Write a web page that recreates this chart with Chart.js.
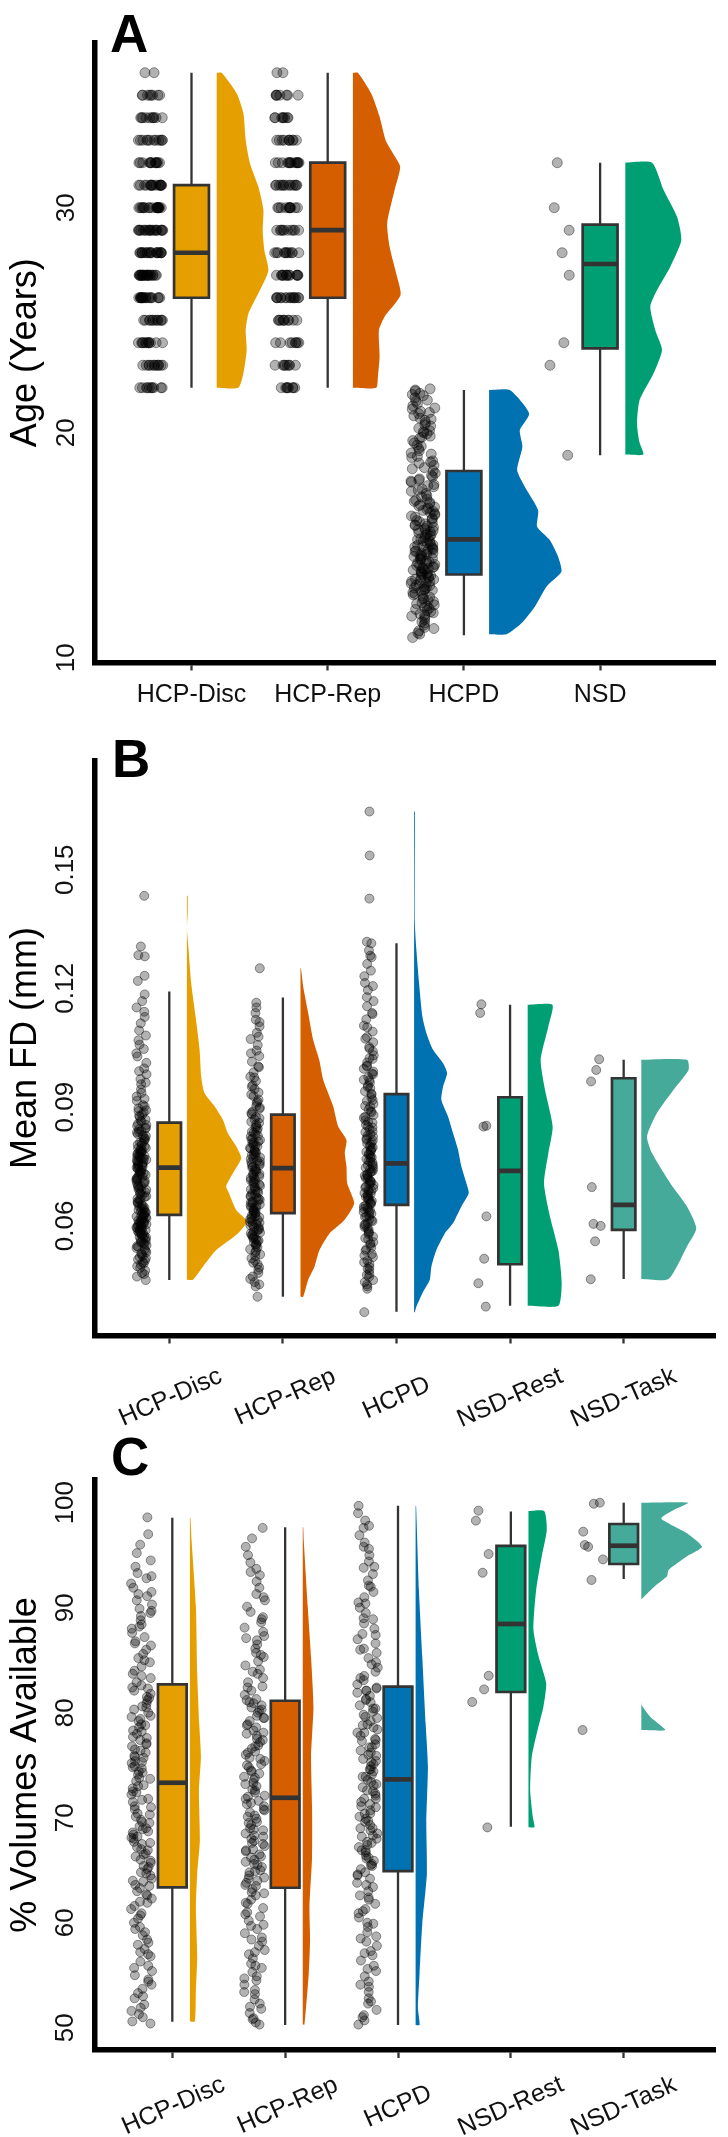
<!DOCTYPE html>
<html>
<head>
<meta charset="utf-8">
<script src="https://cdn.jsdelivr.net/npm/chart.js@4.4.1/dist/chart.umd.min.js"></script>
<style>
  html, body { margin: 0; padding: 0; background: #fff; }
  #wrap { position: relative; width: 728px; height: 2137px; }
  #wrap canvas { position: absolute; left: 0; }
</style>
</head>
<body>
<div id="wrap">
  <canvas id="chartA" width="728" height="725" style="top:0"></canvas>
  <canvas id="chartB" width="728" height="710" style="top:725px"></canvas>
  <canvas id="chartC" width="728" height="702" style="top:1435px"></canvas>
</div>
<script>
// ---------- panel A : age ----------
const ageGroups = ['HCP-Disc', 'HCP-Rep', 'HCPD', 'NSD'];
const ageTicks = [10, 20, 30];
const hcpAgeLevels = [22, 23, 24, 25, 26, 27, 28, 29, 30, 31, 32, 33, 34, 35, 36];
const ageCountDisc = [10, 12, 12, 12, 18, 22, 20, 20, 19, 16, 13, 12, 10, 8, 2];
const ageCountRep = [8, 8, 8, 10, 15, 14, 11, 10, 11, 13, 14, 10, 8, 7, 2];
const ageHcpd = [
  10.9, 11.05, 11.2, 11.3, 11.45, 11.55, 11.7, 11.8, 11.9, 11.95,
  12.0, 12.05, 12.15, 12.2, 12.3, 12.35, 12.45, 12.5, 12.6, 12.65, 12.75, 12.8, 12.9, 12.95,
  13.0, 13.05, 13.1, 13.15, 13.2, 13.3, 13.35, 13.4, 13.45, 13.5, 13.55, 13.6, 13.65, 13.7, 13.75, 13.8, 13.85, 13.9, 13.95,
  14.0, 14.05, 14.1, 14.15, 14.2, 14.25, 14.3, 14.4, 14.45, 14.5, 14.55, 14.6, 14.65, 14.7, 14.75, 14.8, 14.85, 14.9, 14.95,
  15.0, 15.05, 15.1, 15.2, 15.25, 15.3, 15.4, 15.45, 15.5, 15.6, 15.65, 15.7, 15.8, 15.85, 15.9, 15.95,
  16.0, 16.1, 16.15, 16.25, 16.3, 16.4, 16.45, 16.55, 16.6, 16.7, 16.75, 16.85, 16.9, 16.95,
  17.05, 17.15, 17.3, 17.4, 17.5, 17.6, 17.7, 17.8, 17.9, 17.95,
  18.05, 18.2, 18.3, 18.45, 18.55, 18.65, 18.75, 18.9, 18.95,
  19.05, 19.2, 19.3, 19.4, 19.55, 19.65, 19.75, 19.85, 19.95,
  20.0, 20.1, 20.2, 20.35, 20.45, 20.55, 20.65, 20.75, 20.85, 20.95,
  21.05, 21.2, 21.3, 21.45, 21.55, 21.65, 21.75, 21.85, 21.95,
  11.1, 11.35, 11.6, 11.85, 12.1, 12.25, 12.4, 12.55, 12.7, 12.85, 13.02, 13.12, 13.22, 13.28, 13.38, 13.48,
  13.58, 13.68, 13.78, 13.88, 13.98, 14.02, 14.12, 14.22, 14.35, 14.42, 14.52, 14.62, 14.72, 14.82, 14.92,
  15.02, 15.15, 15.28, 15.35, 15.48, 15.55, 15.68, 15.75, 15.88, 16.05, 16.2, 16.35, 16.5, 16.65, 16.8,
  17.0, 17.2, 17.45, 17.65, 17.85, 18.1, 18.4, 18.7, 19.1, 19.45, 19.8, 20.05, 20.3, 20.6, 20.9, 21.1, 21.4, 21.7, 21.9
];
const ageNsd = [32, 30, 29, 28, 27, 24, 23, 19];
// box stats: min, q1, median, q3, max
const ageBoxDisc = [22, 26, 28, 31, 36];
const ageBoxRep = [22, 26, 29, 32, 36];
const ageBoxHcpd = [11.0, 13.7, 15.26, 18.3, 21.9];
const ageBoxNsd = [19, 23.75, 27.5, 29.25, 32];
// half-violin densities (value, relative density)
const ageDensDiscY = [22.0, 22.64, 23.68, 24.56, 25.3, 26.2, 27.2, 28.1, 29.0, 29.9, 30.93, 31.97, 33.0, 34.2, 35.08, 36.0];
const ageDensDiscW = [21.7, 26.7, 30, 29, 31.7, 41.7, 51.7, 47.7, 46, 46.7, 41.7, 33.3, 29, 26.7, 20, 5];
const ageDensRepY = [22.0, 22.49, 23.38, 24.56, 25.16, 26.12, 27.08, 28.27, 29.31, 30.79, 31.82, 32.42, 33.0, 34.04, 35.08, 36.0];
const ageDensRepW = [23.3, 25, 26.7, 26, 31.7, 47.7, 43.3, 36.7, 34.3, 41.7, 47.3, 40, 32.7, 26.7, 18.3, 5];
const ageDensHcpdY = [11.04, 11.53, 12.27, 13.16, 13.82, 14.49, 15.23, 15.82, 16.56, 17.6, 18.34, 19.38, 20.12, 20.86, 21.9];
const ageDensHcpdW = [17.3, 32.3, 45.7, 57.3, 72.3, 69, 60.7, 48, 49, 35.7, 28, 33.3, 30.7, 40, 20.7];
const ageDensNsdY = [19.03, 19.6, 20.42, 21.45, 22.64, 23.68, 24.56, 25.6, 26.34, 27.38, 28.55, 29.6, 30.79, 32.0];
const ageDensNsdW = [18, 14, 11.7, 14.3, 28.3, 36.7, 30, 25, 31.7, 45, 56, 51.7, 38.3, 26.7];

// ---------- panel B : mean FD ----------
const fdGroups = ['HCP-Disc', 'HCP-Rep', 'HCPD', 'NSD-Rest', 'NSD-Task'];
const fdTicks = [0.06, 0.09, 0.12, 0.15];
const fdDisc = [
  0.0463, 0.0472, 0.0481, 0.0494,
  0.0502, 0.0508, 0.0515, 0.0521, 0.0528, 0.0533, 0.0541, 0.0547,
  0.0551, 0.0554, 0.0558, 0.0562, 0.0565, 0.0569, 0.0572, 0.0575, 0.0578, 0.0581, 0.0584, 0.0587, 0.0590, 0.0593, 0.0596, 0.0599,
  0.0601, 0.0604, 0.0606, 0.0609, 0.0611, 0.0614, 0.0617, 0.0619, 0.0622, 0.0625, 0.0628, 0.0631, 0.0634, 0.0637, 0.0640, 0.0643, 0.0646, 0.0649,
  0.0653, 0.0657, 0.0661, 0.0665, 0.0669, 0.0673, 0.0677, 0.0681, 0.0685, 0.0689, 0.0692, 0.0695, 0.0698,
  0.0702, 0.0706, 0.0709, 0.0713, 0.0716, 0.0720, 0.0724, 0.0727, 0.0731, 0.0735, 0.0738, 0.0742, 0.0745, 0.0748,
  0.0751, 0.0754, 0.0757, 0.0760, 0.0763, 0.0766, 0.0769, 0.0772, 0.0775, 0.0778, 0.0781, 0.0784, 0.0788, 0.0791, 0.0794, 0.0797,
  0.0801, 0.0805, 0.0809, 0.0814, 0.0818, 0.0823, 0.0827, 0.0832, 0.0836, 0.0840, 0.0844, 0.0848,
  0.0852, 0.0858, 0.0864, 0.0869, 0.0875, 0.0881, 0.0887, 0.0892, 0.0897,
  0.0905, 0.0916, 0.0927, 0.0936, 0.0945, 0.0958,
  0.0962, 0.0971, 0.0983, 0.0991, 0.0998,
  0.1012, 0.1028, 0.1036, 0.1047, 0.1058, 0.1069, 0.1081, 0.1094,
  0.1112, 0.1128, 0.1141, 0.1152, 0.1168, 0.1185,
  0.1219, 0.1232, 0.1281, 0.1284, 0.1306, 0.1434,
  0.0478, 0.0487, 0.0498, 0.0505, 0.0512, 0.0518, 0.0524, 0.0531, 0.0537, 0.0544, 0.0549, 0.0556, 0.0560, 0.0567,
  0.0571, 0.0577, 0.0583, 0.0586, 0.0589, 0.0592, 0.0595, 0.0598, 0.0603, 0.0605, 0.0608, 0.0612, 0.0616, 0.0621,
  0.0624, 0.0627, 0.0633, 0.0638, 0.0644, 0.0651, 0.0659, 0.0667, 0.0675, 0.0683, 0.0691, 0.0700, 0.0708, 0.0714,
  0.0718, 0.0722, 0.0729, 0.0733, 0.0737, 0.0744, 0.0750, 0.0753, 0.0756, 0.0762, 0.0767, 0.0771, 0.0774, 0.0777,
  0.0783, 0.0786, 0.0790, 0.0796, 0.0803, 0.0811, 0.0820, 0.0829, 0.0838, 0.0846, 0.0855, 0.0866, 0.0878, 0.0890,
  0.0902, 0.0921
];
const fdRep = [
  0.0421, 0.0447, 0.0458, 0.0472, 0.0489,
  0.0503, 0.0512, 0.0524, 0.0533, 0.0541, 0.0549,
  0.0553, 0.0558, 0.0563, 0.0568, 0.0573, 0.0578, 0.0583, 0.0588, 0.0593, 0.0597,
  0.0601, 0.0605, 0.0608, 0.0612, 0.0615, 0.0619, 0.0622, 0.0626, 0.0629, 0.0633, 0.0636, 0.0640, 0.0643, 0.0647, 0.0650, 0.0654, 0.0657, 0.0661, 0.0664, 0.0668, 0.0672, 0.0676, 0.0680, 0.0684, 0.0688, 0.0692, 0.0696,
  0.0701, 0.0705, 0.0709, 0.0713, 0.0717, 0.0721, 0.0725, 0.0729, 0.0733, 0.0737, 0.0741, 0.0745, 0.0749,
  0.0753, 0.0757, 0.0761, 0.0765, 0.0769, 0.0773, 0.0777, 0.0781, 0.0785, 0.0789, 0.0793, 0.0797,
  0.0801, 0.0805, 0.0809, 0.0813, 0.0817, 0.0821, 0.0826, 0.0831, 0.0836, 0.0841, 0.0846,
  0.0851, 0.0857, 0.0863, 0.0869, 0.0875, 0.0882, 0.0889, 0.0896,
  0.0903, 0.0911, 0.0919, 0.0928, 0.0937, 0.0946,
  0.0955, 0.0966, 0.0977, 0.0988, 0.1001, 0.1015, 0.1029, 0.1043,
  0.1057, 0.1072, 0.1088, 0.1104, 0.1121, 0.1138, 0.1152, 0.1164, 0.1251,
  0.0452, 0.0466, 0.0481, 0.0495, 0.0507, 0.0518, 0.0528, 0.0537, 0.0546, 0.0555, 0.0561, 0.0566, 0.0571, 0.0576,
  0.0581, 0.0586, 0.0591, 0.0596, 0.0603, 0.0610, 0.0617, 0.0624, 0.0631, 0.0638, 0.0645, 0.0652, 0.0659, 0.0666,
  0.0674, 0.0682, 0.0690, 0.0698, 0.0707, 0.0715, 0.0723, 0.0731, 0.0739, 0.0747, 0.0755, 0.0763, 0.0771, 0.0779,
  0.0787, 0.0795, 0.0803, 0.0811, 0.0819, 0.0828, 0.0838, 0.0848, 0.0860, 0.0872, 0.0885, 0.0899, 0.0914, 0.0932,
  0.0952, 0.0975, 0.1003, 0.1036, 0.1078, 0.1115
];
const fdHcpd = [
  0.0382,
  0.0441, 0.0452, 0.0463, 0.0471, 0.0479, 0.0488, 0.0496,
  0.0504, 0.0512, 0.0521, 0.0529, 0.0537, 0.0545,
  0.0552, 0.0559, 0.0566, 0.0573, 0.0579, 0.0585, 0.0591, 0.0597,
  0.0602, 0.0607, 0.0612, 0.0617, 0.0622, 0.0626, 0.0631, 0.0635, 0.0639, 0.0643, 0.0647,
  0.0651, 0.0655, 0.0659, 0.0663, 0.0667, 0.0671, 0.0675, 0.0679, 0.0683, 0.0687, 0.0691, 0.0695, 0.0699,
  0.0703, 0.0707, 0.0711, 0.0715, 0.0719, 0.0723, 0.0727, 0.0731, 0.0735, 0.0739, 0.0743, 0.0747,
  0.0751, 0.0755, 0.0760, 0.0764, 0.0769, 0.0773, 0.0778, 0.0782, 0.0787, 0.0791, 0.0796,
  0.0801, 0.0806, 0.0811, 0.0816, 0.0821, 0.0826, 0.0831, 0.0837, 0.0843, 0.0849,
  0.0855, 0.0861, 0.0867, 0.0873, 0.0880, 0.0887, 0.0894,
  0.0901, 0.0908, 0.0916, 0.0924, 0.0932, 0.0940, 0.0948,
  0.0955, 0.0962, 0.0969, 0.0976, 0.0983, 0.0990, 0.0997,
  0.1005, 0.1013, 0.1022, 0.1031, 0.1041,
  0.1052, 0.1064, 0.1077, 0.1091, 0.1106, 0.1122, 0.1138, 0.1155,
  0.1178, 0.1196, 0.1214, 0.1231,
  0.1262, 0.1279, 0.1283, 0.1296, 0.1314, 0.1318,
  0.1427, 0.1536, 0.1647,
  0.0447, 0.0458, 0.0476, 0.0492, 0.0508, 0.0525, 0.0541, 0.0556, 0.0569, 0.0582, 0.0594, 0.0604, 0.0614, 0.0624,
  0.0633, 0.0641, 0.0649, 0.0657, 0.0665, 0.0673, 0.0681, 0.0689, 0.0697, 0.0705, 0.0713, 0.0721, 0.0729, 0.0737,
  0.0745, 0.0753, 0.0762, 0.0771, 0.0780, 0.0789, 0.0798, 0.0808, 0.0818, 0.0828, 0.0839, 0.0851, 0.0863, 0.0876,
  0.0889, 0.0903, 0.0918, 0.0934, 0.0951, 0.0968, 0.0985, 0.1003, 0.1024, 0.1048, 0.1073, 0.1102, 0.1135, 0.1168,
  0.1206, 0.1245
];
const fdRest = [0.116, 0.1138, 0.0853, 0.0851, 0.0624, 0.0517, 0.0455, 0.0396];
const fdTask = [0.1021, 0.0994, 0.0965, 0.0698, 0.0605, 0.0600, 0.0561, 0.0465];
const fdBoxDisc = [0.0463, 0.0628, 0.0747, 0.0861, 0.1192];
const fdBoxRep = [0.0421, 0.0632, 0.0746, 0.0881, 0.1177];
const fdBoxHcpd = [0.0383, 0.0653, 0.0758, 0.0933, 0.1314];
const fdBoxRest = [0.0398, 0.0503, 0.0739, 0.0925, 0.1159];
const fdBoxTask = [0.0466, 0.059, 0.0653, 0.0973, 0.102];
const fdDensDiscY = [0.0464, 0.0497, 0.0539, 0.0581, 0.0611, 0.064, 0.0683, 0.07, 0.0733, 0.0771, 0.0801, 0.0834, 0.0868, 0.0902, 0.0935, 0.0977, 0.1045, 0.1129, 0.1213, 0.1298, 0.1352, 0.139, 0.1434];
const fdDensDiscW = [6, 16, 29.3, 51, 60, 49.3, 42, 39.3, 46, 54.3, 49.3, 41, 36, 27.7, 17.7, 14.3, 12.7, 8.7, 4.3, 1.7, 0, 0.8, 0.8];
const fdDensRepY = [0.0421, 0.0464, 0.0497, 0.0539, 0.0581, 0.0615, 0.0657, 0.0708, 0.075, 0.0784, 0.0817, 0.0851, 0.0902, 0.0935, 0.0969, 0.102, 0.107, 0.1138, 0.1205, 0.1251];
const fdDensRepW = [2.7, 7.7, 14, 19, 29, 44, 53.7, 46.7, 46, 44.3, 46, 37.7, 32.7, 27.7, 22.7, 18.7, 12.7, 7.7, 2.7, 0.5];
const fdDensHcpdY = [0.0382, 0.0396, 0.043, 0.0464, 0.0497, 0.0539, 0.0581, 0.0607, 0.0649, 0.0683, 0.0708, 0.075, 0.0792, 0.0834, 0.0876, 0.0918, 0.0952, 0.0986, 0.1011, 0.1045, 0.1087, 0.1129, 0.1213, 0.1298, 0.1365, 0.1647];
const fdDensHcpdW = [0.7, 2.3, 8.3, 15.7, 17.3, 22.3, 30.7, 39, 47.3, 54.7, 52.3, 47.3, 44, 39, 34, 27.3, 29, 33, 29, 19, 12.3, 8.3, 5, 2.3, 0.8, 0.8];
const fdDensRestY = [0.0398, 0.0455, 0.0539, 0.0624, 0.0708, 0.0784, 0.0851, 0.0944, 0.102, 0.1104, 0.1159];
const fdDensRestW = [30.7, 34, 30.7, 22.3, 16.3, 20.7, 25, 17.3, 13, 20.7, 24.7];
const fdDensTaskY = [0.0466, 0.0548, 0.0594, 0.0649, 0.0708, 0.0784, 0.0826, 0.0885, 0.0944, 0.0994, 0.102];
const fdDensTaskW = [27.3, 45.7, 55, 45.7, 29, 10.7, 5.7, 15.7, 32.3, 47.3, 45.7];

// ---------- panel C : % volumes ----------
const volGroups = ['HCP-Disc', 'HCP-Rep', 'HCPD', 'NSD-Rest', 'NSD-Task'];
const volTicks = [50, 60, 70, 80, 90, 100];
const volDisc = [
  50.4, 50.6, 51.0, 51.3, 51.9, 52.2, 52.8, 53.3, 53.7, 54.1, 54.6, 55.0, 55.4, 55.9, 56.3, 56.8, 57.2, 57.5, 57.9, 58.4, 58.8, 59.1, 59.6, 60.0, 60.4, 60.9, 61.3, 61.6, 62.0, 62.3, 62.7, 63.0, 63.3,
  63.6, 63.9, 64.2, 64.5, 64.8, 65.1, 65.4, 65.7, 66.0, 66.3, 66.6, 66.9, 67.2, 67.5, 67.7, 68.0, 68.2, 68.4, 68.7, 68.9, 69.2, 69.5, 69.8, 70.1, 70.4, 70.8, 71.1, 71.5, 71.8, 72.2, 72.5, 72.8, 73.1,
  73.5, 73.8, 74.1, 74.4, 74.7, 74.9, 75.2, 75.4, 75.7, 75.9, 76.2, 76.5, 76.8, 77.1, 77.4, 77.7, 78.0, 78.3, 78.6, 78.9, 79.2, 79.4, 79.7, 80.0, 80.3, 80.6, 80.9, 81.2, 81.5, 81.8, 82.1, 82.4, 82.6,
  82.9, 83.3, 83.7, 84.0, 84.4, 84.8, 85.2, 85.6, 86.0, 86.4, 86.8, 87.2, 87.6, 88.0, 88.4, 88.8, 89.2, 89.5, 89.9, 90.3, 90.7, 91.1, 91.5, 91.9, 92.3, 92.8, 93.3, 93.9, 94.5, 95.2, 96.0, 97.0, 98.6,
  51.6, 53.0, 54.4, 55.7, 57.0, 58.1, 59.4, 60.7, 61.9, 62.6, 63.5, 64.0, 64.7, 65.3, 65.9, 66.5, 67.0, 67.6, 68.1, 68.6, 69.0, 69.6, 70.3, 71.0,
  71.7, 72.4, 73.0, 73.7, 74.3, 74.8, 75.3, 75.8, 76.4, 77.0, 77.6, 78.2, 78.8, 79.6, 80.5, 81.4, 82.3, 83.5, 85.0, 86.6, 88.2, 89.7, 91.3, 93.0
];
const volRep = [
  50.3, 50.5, 50.9, 51.4, 51.8, 52.3, 52.7, 53.2, 53.6, 54.1, 54.5, 54.9, 55.3, 55.7, 56.1, 56.6, 57.0, 57.4, 57.8, 58.2, 58.6, 59.0, 59.4, 59.8, 60.2, 60.6, 61.0, 61.4, 61.8, 62.2, 62.6, 62.9, 63.2,
  63.5, 63.8, 64.0, 64.3, 64.5, 64.8, 65.0, 65.3, 65.5, 65.8, 66.0, 66.3, 66.5, 66.8, 67.0, 67.3, 67.5, 67.8, 68.0, 68.3, 68.5, 68.8, 69.0, 69.3, 69.6, 69.9, 70.2, 70.5, 70.8, 71.1, 71.3, 71.6, 71.8,
  72.1, 72.4, 72.7, 73.0, 73.3, 73.6, 73.9, 74.2, 74.5, 74.8, 75.1, 75.4, 75.7, 76.0, 76.3, 76.6, 76.9, 77.2, 77.5, 77.8, 78.0, 78.3, 78.6, 78.9, 79.2, 79.5, 79.7, 80.0, 80.3, 80.5, 80.7, 80.9, 81.0,
  81.3, 81.7, 82.1, 82.5, 82.9, 83.3, 83.7, 84.1, 84.5, 84.9, 85.3, 85.7, 86.1, 86.5, 86.9, 87.3, 87.7, 88.1, 88.6, 89.1, 89.6, 90.1, 90.7, 91.3, 91.9, 92.5, 93.1, 93.7, 94.3, 95.0, 95.8, 96.6, 97.6,
  50.8, 52.0, 53.4, 54.7, 55.9, 57.2, 58.4, 59.7, 60.8, 61.9, 62.8, 63.6, 64.2, 64.9, 65.6, 66.2, 66.9, 67.6, 68.2, 68.9, 69.5, 70.1, 70.7,
  71.4, 72.0, 72.6, 73.2, 73.8, 74.4, 75.0, 75.6, 76.2, 76.8, 77.4, 78.1, 78.8, 79.5, 80.2, 81.2, 82.4, 83.9, 85.5, 87.1, 88.9, 91.0, 93.4
];
const volHcpd = [
  50.3, 50.7, 51.2, 51.7, 52.3, 52.8, 53.4, 53.9, 54.4, 54.9, 55.4, 55.9, 56.4, 56.9, 57.3, 57.8, 58.2, 58.7, 59.1, 59.6, 60.0, 60.5, 60.9, 61.3, 61.8, 62.2, 62.6, 63.0, 63.4, 63.8, 64.2, 64.5, 64.8,
  65.1, 65.4, 65.6, 65.9, 66.1, 66.4, 66.7, 66.9, 67.2, 67.4, 67.7, 68.0, 68.2, 68.5, 68.8, 69.0, 69.3, 69.6, 69.9, 70.1, 70.4, 70.7, 71.0, 71.3, 71.5, 71.8, 72.1, 72.3, 72.6, 72.9, 73.1, 73.4, 73.6,
  73.9, 74.1, 74.4, 74.6, 74.9, 75.1, 75.4, 75.6, 75.9, 76.2, 76.4, 76.7, 77.0, 77.3, 77.5, 77.8, 78.1, 78.4, 78.6, 78.9, 79.2, 79.5, 79.8, 80.1, 80.4, 80.7, 81.0, 81.3, 81.6, 81.9, 82.1, 82.3, 82.4,
  82.7, 83.1, 83.5, 83.9, 84.3, 84.8, 85.2, 85.7, 86.1, 86.6, 87.0, 87.5, 88.0, 88.5, 89.0, 89.5, 90.0, 90.5, 91.0, 91.5, 92.0, 92.6, 93.2, 93.8, 94.4, 95.0, 95.6, 96.2, 96.9, 97.6, 98.3, 99.0, 99.7,
  51.0, 52.5, 54.1, 55.6, 57.1, 58.5, 59.9, 61.1, 62.4, 63.6, 64.6, 65.5, 66.2, 66.9, 67.6, 68.3, 69.0, 69.7, 70.4, 71.1, 71.8, 72.5, 73.2,
  73.9, 74.6, 75.3, 76.0, 76.7, 77.4, 78.1, 78.8, 79.6, 80.4, 81.2, 82.1, 83.3, 84.6, 86.0, 87.4, 88.9, 90.4, 92.1, 93.9, 95.8, 97.8
];
const volRest = [99.24, 98.29, 95.11, 93.33, 83.52, 82.22, 81.02, 69.08];
const volTask = [100, 99.9, 97.24, 95.97, 95.8, 94.6, 92.64, 78.35];
const volBoxDisc = [50.57, 63.37, 73.33, 82.7, 98.57];
const volBoxRep = [50.26, 63.33, 71.9, 81.14, 97.65];
const volBoxHcpd = [50.26, 64.92, 73.65, 82.48, 99.7];
const volBoxRest = [69.14, 81.97, 88.45, 95.88, 99.15];
const volBoxTask = [92.73, 94.16, 95.9, 97.97, 100];
const volDensDiscY = [50.6, 53.6, 56.8, 61.5, 64.7, 67.9, 72.6, 75.8, 79.0, 83.75, 90.1, 96.4, 98.57];
const volDensDiscW = [5, 6, 7.3, 6, 7.3, 10, 9, 11, 9.3, 7.3, 6, 1.7, 0.5];
const volDensRepY = [50.3, 55.2, 58.4, 61.5, 66.3, 71.1, 75.8, 80.6, 85.3, 90.1, 96.4, 97.65];
const volDensRepW = [1.7, 6, 7.3, 6.7, 9.3, 9.3, 8.3, 10.7, 8.3, 5, 1, 0.5];
const volDensHcpdY = [50.26, 51.9, 55.2, 59.9, 64.7, 69.5, 74.9, 79.0, 85.3, 91.7, 99.7];
const volDensHcpdW = [4, 2.3, 4, 6.7, 11.3, 10.7, 12.3, 10, 6.7, 3.3, 0.5];
const volDensRestY = [69.1, 70.1, 72.6, 75.8, 78.3, 80.6, 82.8, 85.4, 87.9, 91.7, 94.9, 97.4, 99.2];
const volDensRestW = [6, 4.3, 1.7, 3.3, 9, 15, 17.7, 10, 5, 7.7, 13.3, 18.3, 15.7];
const volDensTaskY = [78.35, 79.6, 80.7, 81.2, 90.8, 92.1, 93.0, 93.6, 94.9, 95.8, 97.1, 98.5, 99.3, 100];
const volDensTaskW = [24, 9, 0.5, 0, 0, 14, 25.7, 27.3, 45.7, 60.7, 45.7, 20, 32.3, 46.7];

// ---------- styling ----------
const colDisc = '#E69F00', colRep = '#D55E00', colHcpd = '#0072B2', colNsd = '#009E73', colTask = '#45AA99';
const INK = '#333333';
const FONT = "'Liberation Sans', Arial, Helvetica, sans-serif";
const X_FONT = 25;
Chart.defaults.font.family = FONT;
Chart.defaults.color = '#111';

const measureCtx = document.createElement('canvas').getContext('2d');
function textWidth(text, size) {
  measureCtx.font = size + 'px ' + FONT;
  return measureCtx.measureText(text).width;
}

function expandCounts(levels, counts) {
  const out = [];
  levels.forEach((lv, k) => { for (let j = 0; j < counts[k]; j++) out.push(lv); });
  return out;
}

// deterministic horizontal spread for the rain points (position only)
function jitter(j, seed) {
  const s = Math.sin((j + 1) * 12.9898 + seed * 78.233) * 43758.5453;
  return 2 * (s - Math.floor(s)) - 1;
}

const panelTag = {
  id: 'panelTag',
  afterDraw(chart, args, opts) {
    const ctx = chart.ctx;
    ctx.save();
    ctx.font = 'bold 53px ' + FONT;
    ctx.fillStyle = '#000';
    ctx.textBaseline = 'alphabetic';
    ctx.fillText(opts.text, opts.x, opts.y);
    ctx.restore();
  }
};

function violinOutline(base, ys, ws, pxPerUnit) {
  // split into separate pieces where the density stays at zero
  const runs = [[]];
  ys.forEach((v, k) => {
    const cur = runs[runs.length - 1];
    cur.push([v, ws[k]]);
    if (ws[k] === 0 && cur.length > 1 && k + 1 < ys.length && ws[k + 1] === 0) runs.push([]);
  });
  const pts = [];
  runs.forEach((run, r) => {
    if (r > 0) pts.push({x: base, y: null});
    pts.push({x: base, y: run[0][0]});
    run.forEach(([v, w]) => pts.push({x: base + w / pxPerUnit, y: v}));
    pts.push({x: base, y: run[run.length - 1][0]});
  });
  return pts;
}

function groupDatasets(i, g, L) {
  const x = i + 1;
  const ds = [];
  ds.push({
    data: g.values.map((v, j) => ({x: x + L.jitCenter + L.jitHalf * jitter(j, g.seed), y: v})),
    showLine: false, pointRadius: L.pointR, pointBorderWidth: 1,
    pointBackgroundColor: 'rgba(0,0,0,0.3)', pointBorderColor: 'rgba(0,0,0,0.4)', order: 0
  });
  const [mn, q1, md, q3, mx] = g.box;
  const h = L.boxHalf;
  ds.push({data: [{x: x - h, y: md}, {x: x + h, y: md}], showLine: true, borderColor: INK, borderWidth: 4.7, pointRadius: 0, order: 1});
  ds.push({
    data: [{x: x - h, y: q1}, {x: x + h, y: q1}, {x: x + h, y: q3}, {x: x - h, y: q3}, {x: x - h, y: q1}],
    showLine: true, fill: 'shape', backgroundColor: g.color, borderColor: INK, borderWidth: 2.7,
    borderCapStyle: 'square', borderJoinStyle: 'miter', pointRadius: 0, order: 2
  });
  ds.push({data: [{x: x, y: mn}, {x: x, y: mx}], showLine: true, borderColor: INK, borderWidth: 2.3, pointRadius: 0, order: 3});
  ds.push({
    data: violinOutline(x + L.violinBase, g.densY, g.densW, L.pxPerUnit),
    showLine: true, fill: 'shape', backgroundColor: g.color, spanGaps: false,
    borderColor: 'rgba(0,0,0,0)', borderWidth: 0, pointRadius: 0, tension: 0.2, order: 4
  });
  return ds;
}

function makeChart(id, L, labels, groups, yTicks, title, yFmt) {
  const datasets = [];
  groups.forEach((g, i) => datasets.push(...groupDatasets(i, g, L)));
  // rotated labels are drawn right-aligned; pad shorter ones with trailing
  // spaces and shift all by half the widest so each sits centred on its tick
  const cosR = Math.cos(L.rot * Math.PI / 180);
  const widths = labels.map(t => textWidth(t, X_FONT));
  const wMax = Math.max(...widths);
  const spaceW = textWidth(' ', X_FONT);
  const shown = labels.map((t, k) => L.rot ? t + ' '.repeat(Math.round((wMax - widths[k]) / 2 / spaceW)) : t);
  return new Chart(document.getElementById(id), {
    type: 'scatter',
    data: {datasets},
    plugins: [panelTag],
    options: {
      responsive: false, animation: false, events: [],
      layout: {padding: {top: L.top, right: 13, bottom: 0, left: 0}},
      plugins: {
        legend: {display: false}, tooltip: {enabled: false},
        panelTag: {text: L.tag, x: L.tagX, y: L.tagY}
      },
      scales: {
        x: {
          type: 'linear', min: L.xMin, max: L.xMax,
          afterBuildTicks: s => { s.ticks = labels.map((_, k) => ({value: k + 1})); },
          afterFit: s => { s.height = L.xAxisH; s.paddingLeft = 0; s.paddingRight = 0; },
          ticks: {
            autoSkip: false, callback: v => shown[v - 1], font: {size: X_FONT}, color: '#111',
            minRotation: L.rot, maxRotation: L.rot, padding: L.xPad,
            labelOffset: L.rot ? wMax * cosR / 2 : 0
          },
          grid: {display: true, drawOnChartArea: false, drawTicks: true, tickLength: 8, tickWidth: 2.3, tickColor: INK},
          border: {display: true, color: '#000', width: 5.5}
        },
        y: {
          type: 'linear', min: L.yMin, max: L.yMax,
          afterBuildTicks: s => { s.ticks = yTicks.map(v => ({value: v})); },
          afterFit: s => { s.width = 95; s.paddingTop = 0; s.paddingBottom = 0; },
          ticks: {font: {size: 26}, color: '#111', minRotation: 90, maxRotation: 90, crossAlign: 'center', padding: L.yPad, callback: yFmt},
          grid: {display: true, drawOnChartArea: false, drawTicks: false, color: 'rgba(0,0,0,0)'},
          border: {display: true, color: '#000', width: 5.5},
          title: {display: true, text: title, font: {size: 36}, color: '#000', padding: {top: 4, bottom: 0}}
        }
      }
    }
  });
}

makeChart('chartA', {
  top: 43, xAxisH: 62.5, xMin: 0.2915, xMax: 4.8435, yMin: 9.79, yMax: 37.32,
  pxPerUnit: 136.2, boxHalf: 0.128, violinBase: 0.185, jitCenter: -0.30, jitHalf: 0.09, pointR: 5,
  rot: 0, xPad: 10, yPad: 14, tag: 'A', tagX: 110, tagY: 52
}, ageGroups, [
  {values: expandCounts(hcpAgeLevels, ageCountDisc), box: ageBoxDisc, densY: ageDensDiscY, densW: ageDensDiscW, color: colDisc, seed: 0},
  {values: expandCounts(hcpAgeLevels, ageCountRep), box: ageBoxRep, densY: ageDensRepY, densW: ageDensRepW, color: colRep, seed: 1},
  {values: ageHcpd, box: ageBoxHcpd, densY: ageDensHcpdY, densW: ageDensHcpdW, color: colHcpd, seed: 2},
  {values: ageNsd, box: ageBoxNsd, densY: ageDensNsdY, densW: ageDensNsdW, color: colNsd, seed: 3}
], ageTicks, 'Age (Years)', v => String(v));

makeChart('chartB', {
  top: 35.5, xAxisH: 99.5, xMin: 0.346, xMax: 5.804, yMin: 0.0323, yMax: 0.1776,
  pxPerUnit: 113.6, boxHalf: 0.103, violinBase: 0.155, jitCenter: -0.245, jitHalf: 0.045, pointR: 4.5,
  rot: 24, xPad: 18, yPad: 4, tag: 'B', tagX: 112, tagY: 52
}, fdGroups, [
  {values: fdDisc, box: fdBoxDisc, densY: fdDensDiscY, densW: fdDensDiscW, color: colDisc, seed: 0},
  {values: fdRep, box: fdBoxRep, densY: fdDensRepY, densW: fdDensRepW, color: colRep, seed: 1},
  {values: fdHcpd, box: fdBoxHcpd, densY: fdDensHcpdY, densW: fdDensHcpdW, color: colHcpd, seed: 2},
  {values: fdRest, box: fdBoxRest, densY: fdDensRestY, densW: fdDensRestW, color: colNsd, seed: 3},
  {values: fdTask, box: fdBoxTask, densY: fdDensTaskY, densW: fdDensTaskW, color: colTask, seed: 4}
], fdTicks, 'Mean FD (mm)', v => v.toFixed(2));

makeChart('chartC', {
  top: 45, xAxisH: 87, xMin: 0.315, xMax: 5.809, yMin: 47.88, yMax: 102.16,
  pxPerUnit: 112.85, boxHalf: 0.127, violinBase: 0.156, jitCenter: -0.272, jitHalf: 0.093, pointR: 4.5,
  rot: 24, xPad: 12, yPad: 7, tag: 'C', tagX: 111, tagY: 40
}, volGroups, [
  {values: volDisc, box: volBoxDisc, densY: volDensDiscY, densW: volDensDiscW, color: colDisc, seed: 0},
  {values: volRep, box: volBoxRep, densY: volDensRepY, densW: volDensRepW, color: colRep, seed: 1},
  {values: volHcpd, box: volBoxHcpd, densY: volDensHcpdY, densW: volDensHcpdW, color: colHcpd, seed: 2},
  {values: volRest, box: volBoxRest, densY: volDensRestY, densW: volDensRestW, color: colNsd, seed: 3},
  {values: volTask, box: volBoxTask, densY: volDensTaskY, densW: volDensTaskW, color: colTask, seed: 4}
], volTicks, '% Volumes Available', v => String(v));
</script>
</body>
</html>
